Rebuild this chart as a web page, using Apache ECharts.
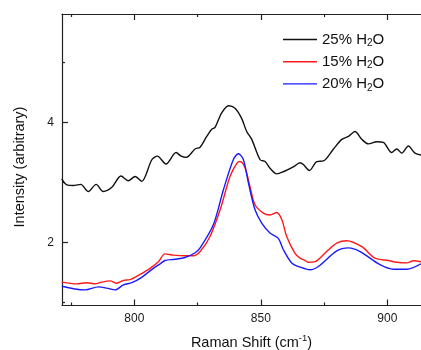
<!DOCTYPE html>
<html>
<head>
<meta charset="utf-8">
<script src="https://cdn.jsdelivr.net/npm/echarts@6/dist/echarts.min.js"></script>
<style>html,body{margin:0;padding:0;background:#fff}#c{width:421px;height:350px}</style>
</head>
<body>
<div id="c"></div>
<script>
// Data (Raman shift cm^-1, intensity)
const seriesNames = ['25% H2O', '15% H2O', '20% H2O'];
const water25 = [[771.3,3.06],[773.3,2.96],[775.9,2.95],[778.8,2.97],[781.8,2.85],[784.9,2.97],[787.7,2.85],[791.1,2.92],[794.7,3.11],[797.6,3.03],[800.3,3.10],[802.9,3.02],[806.9,3.38],[809.1,3.44],[812.5,3.31],[816.5,3.50],[818.5,3.44],[820.5,3.42],[824.0,3.56],[826.0,3.59],[828.6,3.77],[830.6,3.89],[831.9,3.92],[834.5,4.16],[837.2,4.28],[839.8,4.24],[842.4,4.07],[844.4,3.85],[846.4,3.72],[849.7,3.38],[851.7,3.35],[853.6,3.24],[856.3,3.145],[858.9,3.18],[862.8,3.26],[865.5,3.33],[866.8,3.30],[869.2,3.20],[872.1,3.35],[874.7,3.36],[878.7,3.56],[882.0,3.72],[884.6,3.77],[887.2,3.85],[889.9,3.72],[892.5,3.645],[895.8,3.68],[898.4,3.67],[901.7,3.50],[903.7,3.56],[905.7,3.49],[908.3,3.61],[910.9,3.49],[913.3,3.46]];
const water15 = [[771.3,1.34],[777.2,1.31],[781.2,1.33],[784.5,1.31],[787.1,1.34],[790.4,1.36],[793.0,1.32],[795.7,1.37],[798.3,1.38],[802.3,1.47],[806.2,1.57],[809.5,1.68],[812.1,1.81],[815.4,1.79],[820.0,1.78],[823.3,1.78],[826.0,1.85],[829.9,2.10],[833.9,2.545],[837.8,3.10],[840.5,3.32],[841.8,3.35],[843.8,3.24],[845.7,2.93],[847.7,2.63],[851.0,2.49],[853.6,2.46],[856.3,2.50],[858.3,2.38],[860.2,2.10],[863.5,1.82],[865.5,1.74],[867.5,1.70],[868.8,1.67],[871.4,1.68],[876.0,1.85],[880.0,1.99],[883.9,2.03],[889.9,1.93],[895.1,1.74],[900.4,1.70],[903.7,1.67],[907.7,1.66],[910.3,1.695],[913.3,1.68]];
const water20 = [[771.3,1.27],[775.9,1.23],[780.5,1.21],[785.8,1.26],[789.1,1.24],[792.4,1.21],[795.7,1.295],[799.0,1.33],[802.9,1.42],[807.5,1.57],[810.2,1.645],[812.1,1.70],[816.1,1.72],[820.0,1.75],[824.0,1.83],[826.0,1.91],[831.2,2.295],[835.2,2.88],[839.1,3.38],[841.1,3.48],[843.1,3.38],[845.1,2.99],[847.7,2.545],[850.4,2.32],[853.6,2.16],[856.9,2.07],[858.9,1.88],[862.2,1.66],[865.5,1.59],[869.5,1.545],[872.7,1.60],[880.0,1.86],[884.6,1.91],[889.2,1.85],[897.1,1.63],[902.4,1.555],[907.7,1.555],[913.3,1.645]];
const xMajorTicks = [800, 850, 900];
const xMinorTicks = [775, 825, 875, 925];
const yMajorTicks = [2, 4];
const yMinorTicks = [1, 3, 5];
const xRange = [771.4, 921.2];
const yRange = [0.95, 5.81];

const FONT = "'Liberation Sans', Arial, sans-serif";
const AX = '#222';
const chart = echarts.init(document.getElementById('c'), null, {renderer: 'canvas'});

function xAx(pos, ticks, len, labels, extra) {
  return Object.assign({
    type: 'value', gridIndex: 0, position: pos, min: xRange[0], max: xRange[1],
    axisLine: {show: labels, onZero: false, lineStyle: {color: AX, width: 1.2}},
    axisTick: {show: true, inside: true, length: len, customValues: ticks, lineStyle: {color: AX, width: 1.2}},
    axisLabel: labels ? {show: true, customValues: ticks, fontSize: 12, color: '#1a1a1a', fontFamily: FONT, margin: 7} : {show: false},
    splitLine: {show: false}
  }, extra || {});
}
function yAx(ticks, len, labels) {
  return {
    type: 'value', gridIndex: 0, position: 'left', min: yRange[0], max: yRange[1],
    axisLine: {show: labels, onZero: false, lineStyle: {color: AX, width: 1.2}},
    axisTick: {show: true, inside: true, length: len, customValues: ticks, lineStyle: {color: AX, width: 1.2}},
    axisLabel: labels ? {show: true, customValues: ticks, fontSize: 12, color: '#1a1a1a', fontFamily: FONT, margin: 8} : {show: false},
    splitLine: {show: false}
  };
}

const option = {
  animation: false,
  backgroundColor: '#fff',
  grid: {left: 62, top: 14, width: 379, height: 291.5, containLabel: false, outerBoundsMode: 'none'},
  xAxis: [
    xAx('bottom', xMajorTicks, 6, true, {
      name: '{a|Raman Shift (cm}{s|-1}{a|)}', nameLocation: 'middle', nameGap: 28,
      nameTextStyle: {fontFamily: FONT, color: '#111', rich: {
        a: {fontSize: 14.5, fontFamily: FONT, color: '#111', lineHeight: 18},
        s: {fontSize: 9.5, fontFamily: FONT, color: '#111', lineHeight: 10, verticalAlign: 'top'}
      }}
    }),
    xAx('bottom', xMinorTicks, 3, false),
    xAx('top', xMajorTicks, 6, true, {axisLabel: {show: false}}),
    xAx('top', xMinorTicks, 3, false)
  ],
  yAxis: [yAx(yMajorTicks, 6, true), yAx(yMinorTicks, 3, false)],
  legend: {
    orient: 'vertical', left: 283, top: 32, padding: 0, itemWidth: 34, itemHeight: 1.4, itemGap: 5.7,
    icon: 'rect', data: seriesNames,
    formatter: function (n) { return '{a|' + n.replace('H2O', 'H') + '}{s|2}{a|O}'; },
    textStyle: {fontFamily: FONT, rich: {
      a: {fontSize: 15, fontFamily: FONT, color: '#111', lineHeight: 18},
      s: {fontSize: 10, fontFamily: FONT, color: '#111', lineHeight: 10, verticalAlign: 'bottom'}
    }}
  },
  graphic: [{
    type: 'text', x: 20, y: 167, rotation: Math.PI / 2,
    style: {text: 'Intensity (arbitrary)', fontSize: 14.5, fontFamily: FONT, fill: '#111', align: 'center', verticalAlign: 'middle'}
  }],
  series: [
    {name: seriesNames[0], type: 'line', data: water25, smooth: 0.3, showSymbol: false, lineStyle: {color: '#111', width: 1.4}, itemStyle: {color: '#111'}},
    {name: seriesNames[1], type: 'line', data: water15, smooth: 0.3, showSymbol: false, lineStyle: {color: '#ff1a1a', width: 1.4}, itemStyle: {color: '#ff1a1a'}},
    {name: seriesNames[2], type: 'line', data: water20, smooth: 0.3, showSymbol: false, lineStyle: {color: '#1a1aff', width: 1.4}, itemStyle: {color: '#1a1aff'}}
  ]
};
chart.setOption(option);
</script>
</body>
</html>
